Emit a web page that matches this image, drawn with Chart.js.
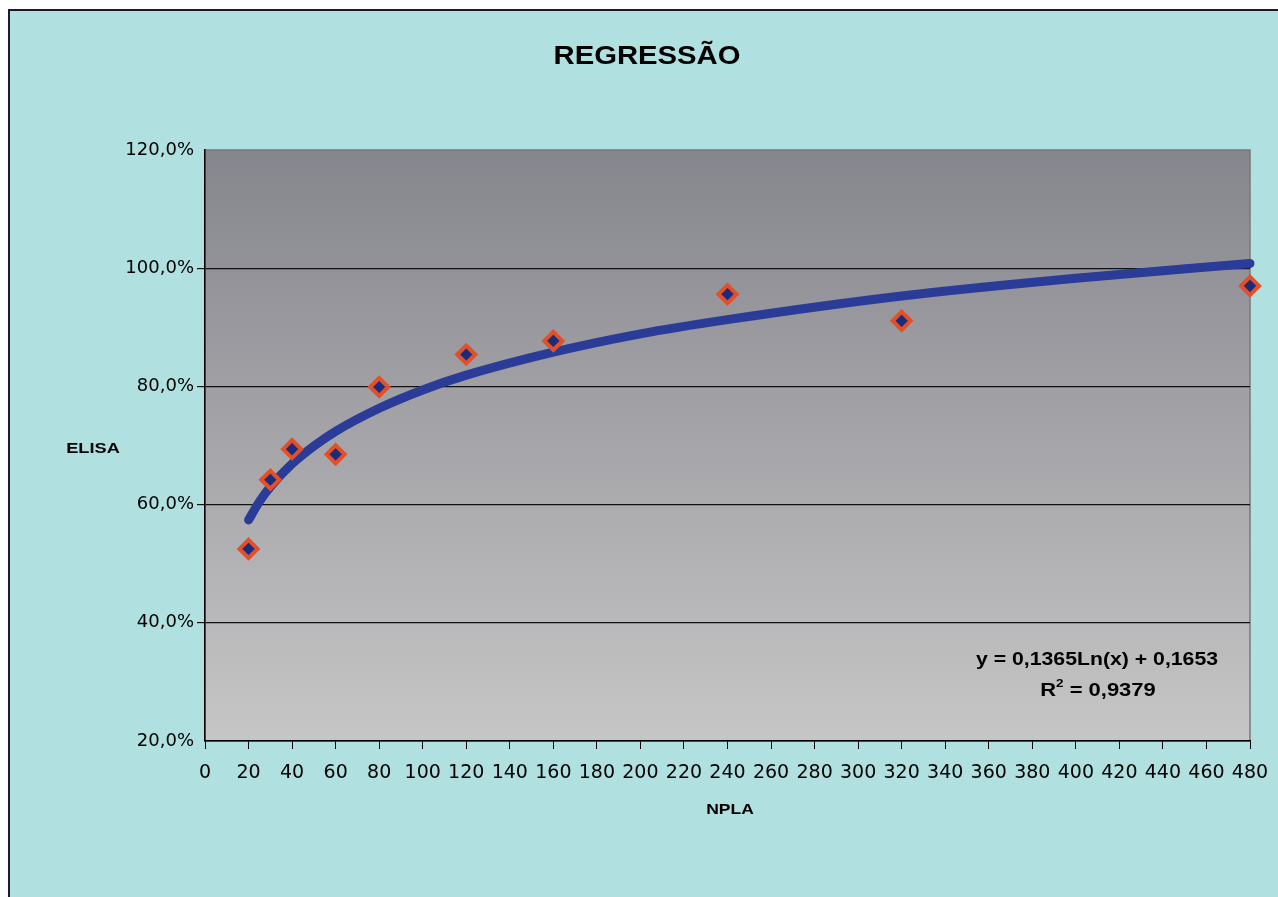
<!DOCTYPE html>
<html>
<head>
<meta charset="utf-8">
<script src="https://cdn.jsdelivr.net/npm/chart.js@4"></script>
<style>
  html, body { margin: 0; padding: 0; background: #fff; }
  #wrap { width: 1278px; height: 897px; position: relative; }
</style>
</head>
<body>
<div id="wrap"><canvas id="regChart" width="1278" height="897"></canvas></div>
<script>
// measured points (NPLA x ELISA %)
const nplaValues = [20, 30, 40, 60, 80, 120, 160, 240, 320, 480];
const elisaValues = [52.5, 64.2, 69.4, 68.5, 79.9, 85.4, 87.7, 95.6, 91.1, 97.0];

// logarithmic trend line
const trendX = [20, 25, 30, 40, 50, 60, 80, 100, 120, 160, 200, 240, 320, 400, 480];
const trendY = [57.4, 60.5, 63.0, 66.9, 69.9, 72.4, 76.3, 79.4, 81.9, 85.8, 88.9, 91.3, 95.3, 98.3, 100.8];

const yTicks = [20, 40, 60, 80, 100, 120];
const titleText = 'REGRESSÃO';
const eqLine1 = 'y = 0,1365Ln(x) + 0,1653';
const eqLine2 = ' = 0,9379';

const fontFam = '"Liberation Sans", Arial, sans-serif';
const tickFam = '"DejaVu Sans", sans-serif';

const points = nplaValues.map((x, i) => ({ x: x, y: elisaValues[i] }));
const trend = trendX.map((x, i) => ({ x: x, y: trendY[i] }));

// text drawn a bit wider, like the original picture
function wideText(ctx, text, cx, cy, size, sx) {
  ctx.save();
  ctx.font = 'bold ' + size + 'px ' + fontFam;
  ctx.translate(cx, cy);
  ctx.scale(sx, 1);
  ctx.textAlign = 'center';
  ctx.textBaseline = 'middle';
  ctx.fillText(text, 0, 0);
  ctx.restore();
}

const decor = {
  id: 'decor',
  beforeDraw(chart) {
    const ctx = chart.ctx;
    const a = chart.chartArea;
    ctx.save();
    ctx.fillStyle = '#ffffff';
    ctx.fillRect(0, 0, chart.width, chart.height);
    ctx.fillStyle = '#b0e0e0';
    ctx.fillRect(9, 10, chart.width, chart.height);
    ctx.strokeStyle = '#1a1a2a';
    ctx.lineWidth = 2;
    ctx.beginPath();
    ctx.moveTo(9, chart.height);
    ctx.lineTo(9, 10);
    ctx.lineTo(chart.width, 10);
    ctx.stroke();

    const g = ctx.createLinearGradient(0, a.top, 0, a.bottom);
    g.addColorStop(0, '#85858d');
    g.addColorStop(1, '#c6c6c6');
    ctx.fillStyle = g;
    ctx.fillRect(a.left, a.top, a.right - a.left, a.bottom - a.top);
    ctx.strokeStyle = '#7a7a7a';
    ctx.lineWidth = 1.5;
    ctx.strokeRect(a.left, a.top, a.right - a.left, a.bottom - a.top);
    ctx.restore();
  },
  afterDraw(chart) {
    const ctx = chart.ctx;
    ctx.fillStyle = '#000';
    wideText(ctx, titleText, 647, 57, 25, 1.17);
    wideText(ctx, 'ELISA', 93, 449, 14, 1.3);
    wideText(ctx, 'NPLA', 730, 810, 14, 1.25);
    wideText(ctx, eqLine1, 1097, 660, 18, 1.18);

    // R² line with superscript
    ctx.save();
    ctx.translate(1098, 691);
    ctx.scale(1.22, 1);
    ctx.textBaseline = 'middle';
    ctx.textAlign = 'left';
    ctx.font = 'bold 18px ' + fontFam;
    const rw = ctx.measureText('R').width;
    const restW = ctx.measureText(eqLine2).width;
    ctx.font = 'bold 11px ' + fontFam;
    const sw = ctx.measureText('2').width;
    const x0 = -(rw + sw + restW) / 2;
    ctx.font = 'bold 18px ' + fontFam;
    ctx.fillText('R', x0, 0);
    ctx.font = 'bold 11px ' + fontFam;
    ctx.fillText('2', x0 + rw, -7);
    ctx.font = 'bold 18px ' + fontFam;
    ctx.fillText(eqLine2, x0 + rw + sw, 0);
    ctx.restore();
  }
};

new Chart(document.getElementById('regChart'), {
  type: 'scatter',
  data: {
    datasets: [
      {
        label: 'Trend',
        type: 'line',
        data: trend,
        borderColor: '#2b3b98',
        borderWidth: 9,
        borderCapStyle: 'round',
        pointRadius: 0,
        tension: 0.4,
        cubicInterpolationMode: 'monotone',
        fill: false,
        clip: false,
        order: 2
      },
      {
        label: 'ELISA',
        data: points,
        pointStyle: 'rectRot',
        pointRadius: 9,
        pointBorderWidth: 4,
        backgroundColor: '#1c2c7c',
        borderColor: '#e2502a',
        clip: false,
        order: 1
      }
    ]
  },
  options: {
    responsive: false,
    animation: false,
    layout: { padding: { top: 150, right: 28, bottom: 0, left: 0 } },
    plugins: {
      legend: { display: false },
      title: { display: false },
      tooltip: { enabled: false }
    },
    scales: {
      x: {
        type: 'linear',
        min: 0,
        max: 480,
        afterFit(scale) {
          scale.height = 156;
          scale.paddingLeft = 0;
          scale.paddingRight = 0;
        },
        ticks: {
          stepSize: 20,
          autoSkip: false,
          maxRotation: 0,
          color: '#000',
          padding: 13,
          font: { family: tickFam, size: 19 }
        },
        grid: {
          drawOnChartArea: false,
          drawTicks: true,
          tickLength: 8,
          color: '#000',
          lineWidth: 1
        },
        border: { display: true, color: '#000', width: 1.5 }
      },
      y: {
        min: 20,
        max: 120,
        afterFit(scale) { scale.width = 205; },
        afterBuildTicks(scale) { scale.ticks = yTicks.map(v => ({ value: v })); },
        ticks: {
          color: '#000',
          padding: 3,
          font: { family: tickFam, size: 18 },
          callback: v => v.toFixed(1).replace('.', ',') + '%'
        },
        grid: {
          drawOnChartArea: true,
          drawTicks: true,
          tickLength: 8,
          color: ctx => (ctx.tick && (ctx.tick.value === 20 || ctx.tick.value === 120)) ? 'rgba(0,0,0,0)' : '#111',
          lineWidth: 1.2
        },
        border: { display: true, color: '#000', width: 1.5 }
      }
    }
  },
  plugins: [decor]
});
</script>
</body>
</html>
